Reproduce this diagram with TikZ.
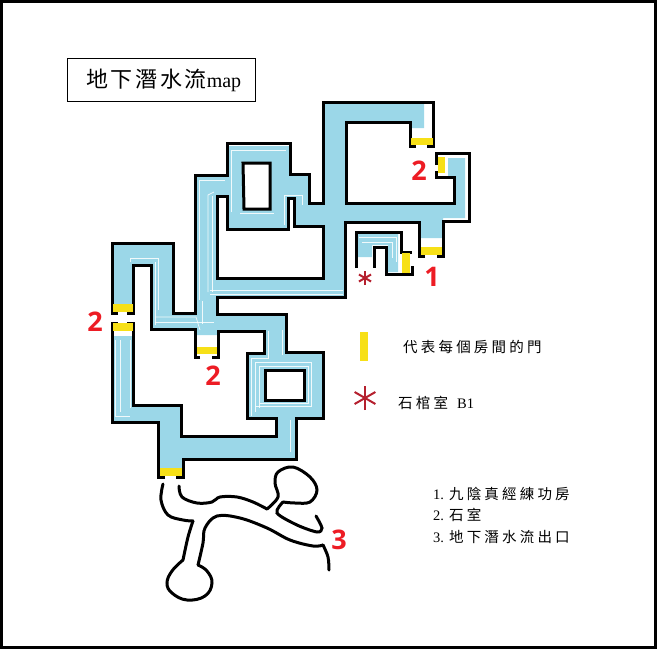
\documentclass[tikz,border=0pt]{standalone}
\usepackage{fontspec}
\setmainfont{Liberation Serif}
\newfontfamily\cjk[LetterSpace=22]{Noto Sans CJK TC}
\newfontfamily\cjktitle[LetterSpace=12]{Noto Sans CJK TC}
\newfontfamily\bignum{Open Sans}
\definecolor{waterblue}{HTML}{9BD7E8}
\definecolor{doorgold}{HTML}{F7E017}
\definecolor{numred}{HTML}{ED1C24}
\definecolor{tombred}{HTML}{B5202E}
\tikzset{
  wall/.style={draw=black, line width=3pt, line join=miter},
  streak/.style={draw=white, line width=0.7pt, opacity=0.85},
  squiggle/.style={draw=black, line width=3pt, line cap=round},
  roomnum/.style={text=numred, font=\bignum\bfseries\fontsize{27}{27}\selectfont, inner sep=0pt},
  legend/.style={anchor=west, inner sep=0pt, font=\fontsize{14.5}{16}\selectfont},
}
\begin{document}
\begin{tikzpicture}[x=1pt, y=-1pt]
  \useasboundingbox (0,0) rectangle (657,649);
  \draw[line width=3pt] (1.5,1.5) rectangle (655.5,647.5);

  \draw[line width=1pt] (67,58.5) rectangle (255.5,101);
  \node[anchor=west, inner sep=0pt, font=\fontsize{22}{24}\selectfont] (title) at (86,80) {{\cjktitle 地下潛水流}{\fontsize{20}{24}\selectfont map}};

  % water
  \fill[waterblue, even odd rule] (112,304) -- (112,243) -- (173,243) -- (173,313) -- (195,313) -- (195,175) -- (227,175)
    -- (227,146) -- (290,146) -- (290,174) -- (309,174) -- (309,203) -- (323,203) -- (323,102) -- (424,102) -- (424,128)
    -- (410,128) -- (410,122) -- (346,122) -- (346,203) -- (454,203) -- (454,177) -- (448,177) -- (448,158) -- (465,158)
    -- (465,218) -- (443,218) -- (443,238) -- (419,238) -- (419,222) -- (345,222) -- (345,297) -- (217,297) -- (217,314)
    -- (286,314) -- (286,352) -- (323,352) -- (323,418) -- (296,418) -- (296,459) -- (183,459) -- (183,468) -- (158,468)
    -- (158,422) -- (112,422) -- (112,336) -- (133,336) -- (133,405) -- (181,405) -- (181,436) -- (276,436) -- (276,418)
    -- (247,418) -- (247,353) -- (264,353) -- (264,331) -- (218,331) -- (218,335) -- (195,335) -- (195,329) -- (151,329)
    -- (151,265) -- (133,265) -- (133,304) -- cycle
    (217,196) -- (227,196) -- (227,229) -- (288,229) -- (288,198) -- (294,198) -- (294,226) -- (323,226) -- (323,278) -- (217,278) -- cycle
    (243,163) -- (270,163) -- (270,209) -- (244,209) -- cycle
    (265,370) -- (304,370) -- (304,400) -- (265,400) -- cycle;
  \fill[waterblue] (357,233) -- (398,233) -- (398,272) -- (388,272) -- (388,245) -- (372,245) -- (372,257) -- (357,257) -- cycle;

  % white streaks in the water
  \draw[streak] (199,300) -- (199,180) -- (225,180);
  \draw[streak] (208,292) -- (208,195) -- (214,192);
  \draw[streak] (212,292) -- (212,196);
  \draw[streak] (231,212) -- (231,150) -- (286,150);
  \draw[streak] (240,213) -- (274,213);
  \draw[streak] (284,225) -- (284,195) -- (302,195) -- (302,205);
  \draw[streak] (210,290) -- (343,290);
  \draw[streak] (210,294) -- (343,294);
  \draw[streak] (130,262) -- (130,258) -- (158,258) -- (158,310);
  \draw[streak] (155,262) -- (155,325);
  \draw[streak] (115,340) -- (115,416) -- (130,416);
  \draw[streak] (120,340) -- (120,412);
  \draw[streak] (130,340) -- (130,408);
  \draw[streak] (155,317) -- (196,317) -- (200,330);
  \draw[streak] (155,322) -- (214,322);
  \draw[streak] (202,301) -- (202,324);
  \draw[streak] (251,416) -- (251,358) -- (268,358) -- (268,331);
  \draw[streak] (255,412) -- (255,362) -- (311,362) -- (311,406) -- (256,406);
  \draw[streak] (259,408) -- (259,366) -- (308,366) -- (308,403) -- (259,403);
  \draw[streak] (282,355) -- (282,330);
  \draw[streak] (290,420) -- (290,452);
  \draw[streak] (272,420) -- (272,434);
  \draw[streak] (359,237) -- (396,237) -- (396,262);
  \draw[streak] (362,242) -- (392,242) -- (392,258);

  % walls
  \draw[wall] (118,313) -- (112,313) -- (112,243) -- (173,243) -- (173,313) -- (195,313) -- (195,175) -- (227,175)
    -- (227,143) -- (290,143) -- (290,174) -- (309,174) -- (309,203) -- (323,203) -- (323,102) -- (433,102) -- (433,146) -- (427,146);
  \draw[wall] (416,146) -- (410,146) -- (410,122) -- (346,122) -- (346,203) -- (454,203) -- (454,177) -- (436,177) -- (436,171);
  \draw[wall] (436,165) -- (436,153) -- (469,153) -- (469,221) -- (443,221) -- (443,256) -- (437,256);
  \draw[wall] (425,256) -- (419,256) -- (419,222) -- (345,222) -- (345,297) -- (217,297) -- (217,314) -- (286,314)
    -- (286,352) -- (323,352) -- (323,418) -- (296,418) -- (296,459) -- (183,459) -- (183,477) -- (176,477);
  \draw[wall] (165,477) -- (158,477) -- (158,422) -- (112,422) -- (112,323) -- (118,323);
  \draw[wall] (127,323) -- (133,323) -- (133,405) -- (181,405) -- (181,436) -- (276,436) -- (276,418) -- (247,418)
    -- (247,353) -- (264,353) -- (264,331) -- (218,331) -- (218,357) -- (212,357);
  \draw[wall] (200,357) -- (195,357) -- (195,329) -- (151,329) -- (151,265) -- (133,265) -- (133,313) -- (127,313);
  \draw[wall] (217,196) -- (227,196) -- (227,229) -- (288,229) -- (288,198) -- (294,198) -- (294,226) -- (323,226) -- (323,278) -- (217,278) -- cycle;
  \draw[wall] (243,163) -- (270,163) -- (270,209) -- (244,209) -- cycle;
  \draw[wall] (265,370) -- (304,370) -- (304,400) -- (265,400) -- cycle;
  \draw[wall] (356,268) -- (356,232) -- (401,232) -- (401,252) -- (412,252);
  \draw[wall] (412,266) -- (412,274) -- (386,274) -- (386,247) -- (374,247) -- (374,268);

  % doors
  \foreach \x/\y/\w/\h in {411/138/22/7, 438/157/7/16, 421/247/21/8, 402/253/8/20, 113/304/20/8, 113/323/20/8, 197/347/20/7, 160/468/22/8, 360/332/8/29}
    \fill[doorgold] (\x,\y) rectangle +(\w,\h);

  % outlet passage
  \draw[squiggle] plot[smooth, tension=0.6] coordinates {(163,484) (161,500) (168,515) (183,520) (193,521)};
  \draw[squiggle] plot[smooth, tension=0.6] coordinates {(193,521) (188,537) (183,560)};
  \draw[squiggle] plot[smooth, tension=0.7] coordinates {(183,560) (172,571) (167,583) (172,593) (187,600) (205,596) (212,583) (207,571) (198,565)};
  \draw[squiggle] plot[smooth, tension=0.6] coordinates {(198,565) (203,543) (205,528) (217,516) (240,518) (267,528) (290,540) (313,546) (323,545)};
  \draw[squiggle] plot[smooth, tension=0.6] coordinates {(323,545) (328,557) (329,570)};
  \draw[squiggle] plot[smooth, tension=0.6] coordinates {(179,486) (182,497) (197,503) (212,502) (220,497) (237,497) (253,502) (267,509)};
  \draw[squiggle] plot[smooth, tension=0.6] coordinates {(267,509) (278,497) (275,483) (278,472) (293,467) (310,477) (317,490) (310,502) (295,503) (283,502)};
  \draw[squiggle] plot[smooth, tension=0.5] coordinates {(283,502) (277,513) (297,525) (317,532) (322,528) (316,516)};

  % stone coffin marks
  \foreach \a in {90,30,150} {
    \draw[tombred, line width=2pt] (365,278) ++(\a:7) -- ++(\a+180:14);
    \draw[tombred, line width=2pt] (365,398) ++(\a:12) -- ++(\a+180:24);
  }

  \node[roomnum] (doorB) at (419,171) {2};
  \node[roomnum] (doorC) at (432,277) {1};
  \node[roomnum] (doorD) at (95,322) {2};
  \node[roomnum] (doorE) at (213,376) {2};
  \node[roomnum] (doorF) at (339,540) {3};

  \node[legend] (doorkey) at (403,347) {\cjk 代表每個房間的門};
  \node[legend] (tombkey) at (398,403) {{\cjk 石棺室}\hspace{9pt}B1};
  \node[legend] (listA) at (433,494) {1.\hspace{5pt}{\cjk 九陰真經練功房}};
  \node[legend] (listB) at (433,515) {2.\hspace{5pt}{\cjk 石室}};
  \node[legend] (listC) at (433,537) {3.\hspace{5pt}{\cjk 地下潛水流出口}};
\end{tikzpicture}
\end{document}
